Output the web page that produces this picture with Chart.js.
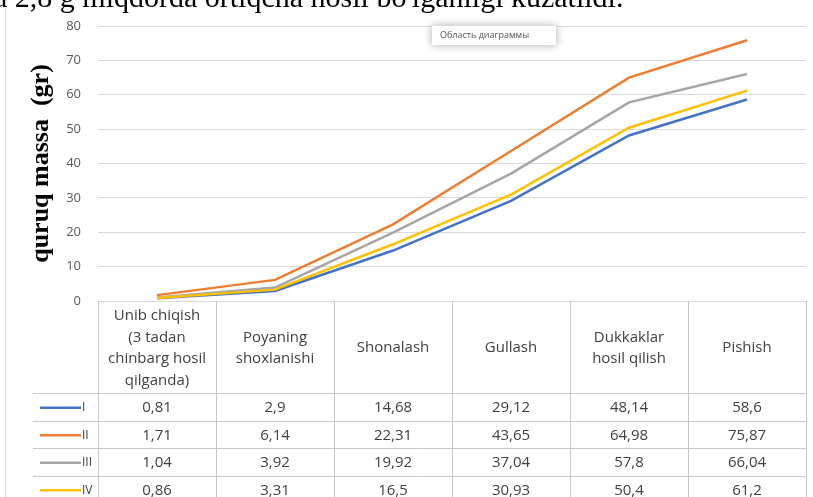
<!DOCTYPE html>
<html>
<head>
<meta charset="utf-8">
<script src="https://cdn.jsdelivr.net/npm/chart.js@4"></script>
<style>
  html, body { margin: 0; padding: 0; background: #fff; overflow: hidden; }
  #line-chart { display: block; }
</style>
</head>
<body>
<canvas id="line-chart" width="813" height="497"></canvas>
<script>
// stage names (header of the data table), line by line
const categories = [
  ['Unib chiqish', '(3 tadan', 'chinbarg hosil', 'qilganda)'],
  ['Poyaning', 'shoxlanishi'],
  ['Shonalash'],
  ['Gullash'],
  ['Dukkaklar', 'hosil qilish'],
  ['Pishish'],
];
const seriesNames = ['I', 'II', 'III', 'IV'];
const seriesI = [0.81, 2.9, 14.68, 29.12, 48.14, 58.6];
const seriesII = [1.71, 6.14, 22.31, 43.65, 64.98, 75.87];
const seriesIII = [1.04, 3.92, 19.92, 37.04, 57.8, 66.04];
const seriesIV = [0.86, 3.31, 16.5, 30.93, 50.4, 61.2];
const yMin = 0;
const yMax = 80;
const yStep = 10;
const axisTitle = 'quruq massa  (gr)';
const topSentence = "a 2,8 g miqdorda ortiqcha hosil bo'lganligi kuzatildi.";
const hoverLabel = 'Область диаграммы';

const colors = ['#4472C4', '#ED7D31', '#A5A5A5', '#FFC000'];
const allSeries = [seriesI, seriesII, seriesIII, seriesIV];

const fmt = (v) => String(v).replace('.', ',');

// draws the data table under the plot, the frame, the page text and the hover box
const tablePlugin = {
  id: 'dataTable',
  afterDraw(chart) {
    const ctx = chart.ctx;
    const x = chart.scales.x;
    const area = chart.chartArea;
    const step = x.getPixelForValue(1) - x.getPixelForValue(0);
    const left = x.getPixelForValue(0) - step / 2;
    const right = x.getPixelForValue(categories.length - 1) + step / 2;
    const top = area.bottom;
    const headH = 92;
    const rowH = 27.5;
    const keyLeft = 33;
    const bottom = chart.height + 2;
    const cellFont = '15px "Open Sans", sans-serif';

    ctx.save();
    ctx.strokeStyle = '#c8c8c8';
    ctx.lineWidth = 1;

    // vertical lines
    for (let i = 0; i <= categories.length; i++) {
      const px = Math.round(left + i * step) + 0.5;
      ctx.beginPath();
      ctx.moveTo(px, top);
      ctx.lineTo(px, bottom);
      ctx.stroke();
    }
    // horizontal lines
    for (let r = 0; r < seriesNames.length; r++) {
      const py = Math.round(top + headH + r * rowH) + 0.5;
      ctx.beginPath();
      ctx.moveTo(keyLeft, py);
      ctx.lineTo(right, py);
      ctx.stroke();
    }

    // header text
    ctx.fillStyle = '#404040';
    ctx.font = cellFont;
    ctx.textAlign = 'center';
    ctx.textBaseline = 'middle';
    const lineH = 21.5;
    categories.forEach((lines, i) => {
      const cx = x.getPixelForValue(i);
      const cy = top + headH / 2 + 1 - ((lines.length - 1) * lineH) / 2;
      lines.forEach((t, k) => ctx.fillText(t, cx, cy + k * lineH));
    });

    // values + legend keys
    allSeries.forEach((vals, r) => {
      const cy = top + headH + r * rowH + rowH / 2 + 1;
      ctx.font = cellFont;
      vals.forEach((v, i) => {
        ctx.fillStyle = '#404040';
        ctx.textAlign = 'center';
        ctx.fillText(fmt(v), x.getPixelForValue(i), cy);
      });
      ctx.strokeStyle = colors[r];
      ctx.lineWidth = 2.5;
      ctx.beginPath();
      ctx.moveTo(40, cy);
      ctx.lineTo(81, cy);
      ctx.stroke();
      ctx.fillStyle = '#404040';
      ctx.textAlign = 'left';
      ctx.font = '12px "Open Sans", sans-serif';
      ctx.fillText(seriesNames[r], 82, cy);
    });

    // chart frame, left edge
    ctx.strokeStyle = '#d9d9d9';
    ctx.lineWidth = 1;
    ctx.beginPath();
    ctx.moveTo(5.5, 8);
    ctx.lineTo(5.5, bottom);
    ctx.stroke();

    // sentence of the page above the chart (cut at the top)
    ctx.fillStyle = '#000';
    ctx.textAlign = 'left';
    ctx.textBaseline = 'alphabetic';
    ctx.font = '30px "Liberation Serif", serif';
    ctx.fillText(topSentence, -6, 7);

    // hover box
    ctx.save();
    ctx.shadowColor = 'rgba(0,0,0,0.35)';
    ctx.shadowBlur = 8;
    ctx.fillStyle = '#fff';
    ctx.fillRect(432, 26, 124, 19);
    ctx.restore();
    ctx.fillStyle = '#555';
    ctx.font = '9px "Open Sans", sans-serif';
    ctx.textBaseline = 'middle';
    ctx.fillText(hoverLabel, 440, 35);

    ctx.restore();
  },
};

const el = document.getElementById('line-chart');

const data = {
  labels: categories,
  datasets: seriesNames.map((name, i) => ({
    label: name,
    data: allSeries[i],
    borderColor: colors[i],
    backgroundColor: colors[i],
    borderWidth: 2.5,
    pointRadius: 0,
    tension: 0,
    order: seriesNames.length - i,
  })),
};

const chart = new Chart(el, {
  type: 'line',
  data: data,
  options: {
    responsive: false,
    animation: false,
    layout: { padding: { top: 26, right: 7, bottom: 196, left: 0 } },
    plugins: {
      legend: { display: false },
      tooltip: { enabled: false },
    },
    scales: {
      x: {
        type: 'category',
        display: false,
        offset: true,
      },
      y: {
        min: yMin,
        max: yMax,
        afterFit(scale) { scale.width = 98; },
        ticks: {
          stepSize: yStep,
          color: '#595959',
          padding: 17,
          font: { family: '"Open Sans", sans-serif', size: 13 },
        },
        grid: { color: '#d9d9d9', drawTicks: false },
        border: { display: false },
        title: {
          display: true,
          text: axisTitle,
          color: '#000',
          padding: { top: 26, bottom: 0 },
          font: { family: '"Liberation Serif", serif', size: 26, weight: 'bold' },
        },
      },
    },
  },
  plugins: [tablePlugin],
});
</script>
</body>
</html>
